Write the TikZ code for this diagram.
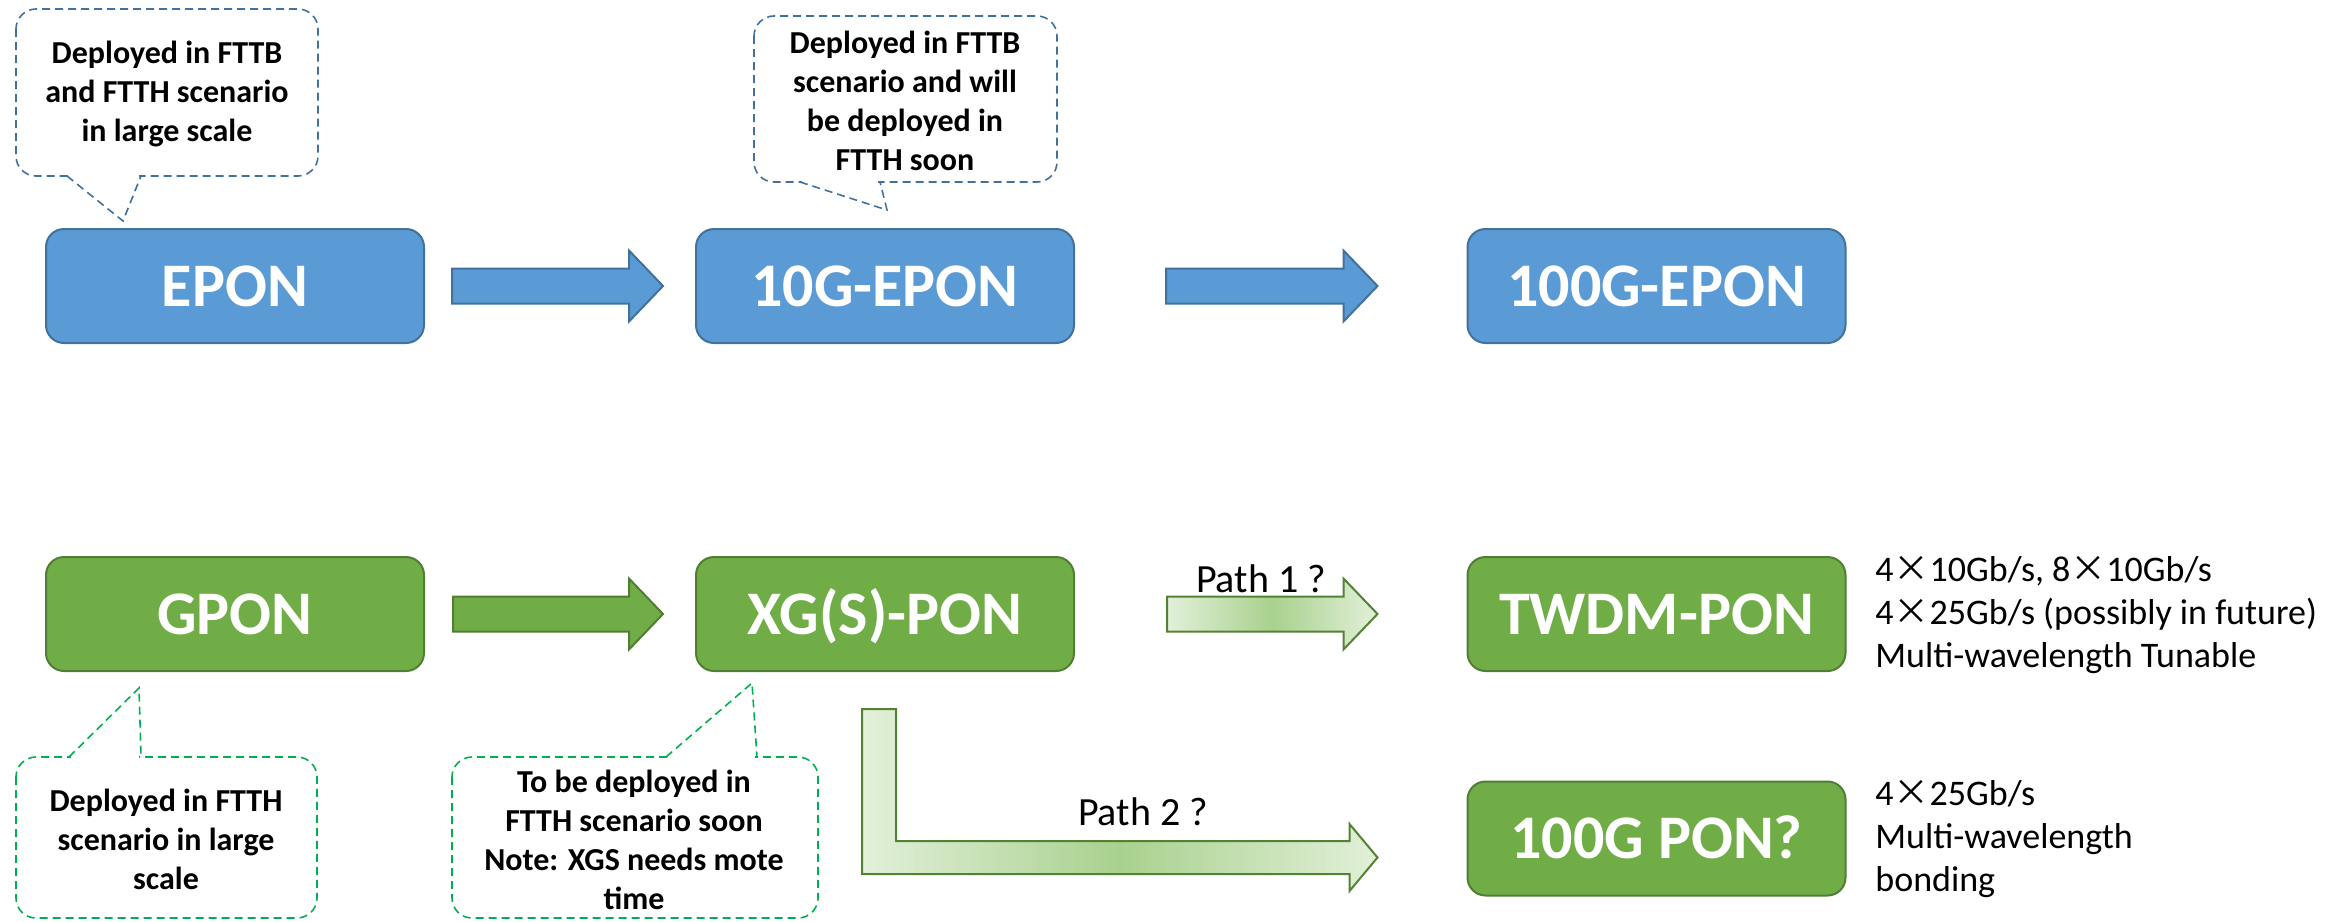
\documentclass[tikz,border=0pt]{standalone}
\usepackage{fontspec}
\setmainfont{Carlito}
\newfontfamily\cjk{Noto Sans CJK SC}
\usetikzlibrary{calc}
\definecolor{bfill}{HTML}{5B9BD5}
\definecolor{bline}{HTML}{41719C}
\definecolor{gfill}{HTML}{70AD47}
\definecolor{gline}{HTML}{507E32}
\definecolor{gdash}{HTML}{00B050}
\definecolor{plight}{HTML}{E2F0D9}
\definecolor{pmid}{HTML}{A9D18E}
\definecolor{pline}{HTML}{548235}
\newcommand{\X}{{\cjk ×}}
\newcommand{\blockarrow}[3]{%
  \path[#1] ($(#2)+(0,-17.5)$) -- ($(#3)+(-34,-17.5)$) -- ($(#3)+(-34,-35.5)$) -- (#3)
    -- ($(#3)+(-34,35.5)$) -- ($(#3)+(-34,17.5)$) -- ($(#2)+(0,17.5)$) -- cycle;}
\begin{document}
\begin{tikzpicture}[x=0.5pt,y=-0.5pt,
  pbox/.style={rounded corners=9pt, minimum width=189pt, minimum height=57pt,
    line width=1pt, text=white, font=\fontsize{31}{37}\selectfont\bfseries, inner sep=0pt,
    text height=20pt, text depth=0pt},
  bluebox/.style={pbox, draw=bline, fill=bfill},
  greenbox/.style={pbox, draw=gline, fill=gfill},
  barrow/.style={draw=bline, fill=bfill, line width=1pt},
  garrow/.style={draw=gline, fill=gfill, line width=1pt},
  parrow/.style={draw=pline, line width=1pt, left color=plight, right color=plight, middle color=pmid},
  cblue/.style={draw=bline, line width=0.8pt, dash pattern=on 4pt off 2.5pt},
  cgreen/.style={draw=gdash, line width=0.8pt, dash pattern=on 4pt off 2.5pt},
  ctext/.style={align=center, font=\fontsize{16}{19.5}\selectfont\bfseries, inner sep=0pt},
  rtext/.style={align=left, anchor=west, font=\fontsize{18}{21.5}\selectfont, inner sep=0pt},
  ptext/.style={anchor=base, font=\fontsize{20}{24}\selectfont, inner sep=0pt}]
\useasboundingbox (0,0) rectangle (2343,921);

% boxes
\node[bluebox] (epon) at (235,286) {EPON};
\node[bluebox] (e10) at (885,286) {10G-EPON};
\node[bluebox] (e100) at (1656.5,286) {100G-EPON};
\node[greenbox] (gpon) at (235,614) {GPON};
\node[greenbox] (xg) at (885,614) {XG(S)-PON};
\node[greenbox] (twdm) at (1656.5,614) {TWDM-PON};
\node[greenbox] (pon100) at (1656.5,838.5) {100G PON?};

% arrows
\coordinate (a1s) at ($(epon.east)+(27,0)$);
\coordinate (a1e) at ($(e10.west)+(-32,0)$);
\coordinate (a2s) at ($(e10.east)+(91,0)$);
\coordinate (a2e) at ($(e100.west)+(-89,0)$);
\coordinate (a3s) at ($(gpon.east)+(28,0)$);
\coordinate (a3e) at ($(xg.west)+(-32,0)$);
\coordinate (a4s) at ($(xg.east)+(92,0)$);
\coordinate (a4e) at ($(twdm.west)+(-89,0)$);
\blockarrow{barrow}{a1s}{a1e}
\blockarrow{barrow}{a2s}{a2e}
\blockarrow{garrow}{a3s}{a3e}
\blockarrow{parrow}{a4s}{a4e}

% bent arrow xg -> 100G PON
\coordinate (bs) at ($(xg.south)+(-6,37)$);
\coordinate (be) at ($(pon100.west)+(-89,19)$);
\path[parrow] ($(bs)+(-17,0)$) -- ($(bs)+(17,0)$) |- ($(be)+(-28,-16.5)$)
  -- ($(be)+(-28,-33.5)$) -- (be) -- ($(be)+(-28,33.5)$) -- ($(be)+(-28,16.5)$)
  -| ($(bs)+(-17,0)$) -- cycle;

\node[ptext] (p1) at (1261,592) {Path 1 ?};
\node[ptext] (p2) at (1143,825) {Path 2 ?};

% right texts
\node[rtext] (t1) at (1875,615) {4\X10Gb/s, 8\X10Gb/s\\4\X25Gb/s (possibly in future)\\Multi-wavelength Tunable};
\node[rtext] (t2) at (1875,839) {4\X25Gb/s\\Multi-wavelength\\bonding};

% callout 1
\draw[cblue, rounded corners=10pt] (16,9) rectangle (318,176);
\fill[white] (69,171) rectangle (139,181);
\coordinate (c1tip) at (123,221);
\draw[cblue] (67,176) -- (c1tip) -- (141,176);
\node[ctext] (c1) at (167,94) {Deployed in FTTB\\and FTTH scenario\\in large scale};

% callout 2
\draw[cblue, rounded corners=10pt] (754,16) rectangle (1057,182);
\fill[white] (802,177) rectangle (878,187);
\coordinate (c2tip) at (887,210);
\draw[cblue] (800,182) -- (c2tip) -- (880,182);
\node[ctext] (c2) at (905,100.5) {Deployed in FTTB\\scenario and will\\be deployed in\\FTTH soon};

% callout 3
\draw[cgreen, rounded corners=10pt] (16,757) rectangle (317,918);
\fill[white] (71,752) rectangle (139,762);
\coordinate (c3tip) at (139,688);
\draw[cgreen] (69,757) -- (c3tip) -- (141,757);
\node[ctext] (c3) at (166,839) {Deployed in FTTH\\scenario in large\\scale};

% callout 4
\draw[cgreen, rounded corners=10pt] (452,757) rectangle (818,918);
\fill[white] (668,752) rectangle (755,762);
\coordinate (c4tip) at (752,683);
\draw[cgreen] (666,757) -- (c4tip) -- (757,757);
\node[ctext] (c4) at (634,840) {To be deployed in\\FTTH scenario soon\\Note: XGS needs mote\\time};
\end{tikzpicture}
\end{document}
